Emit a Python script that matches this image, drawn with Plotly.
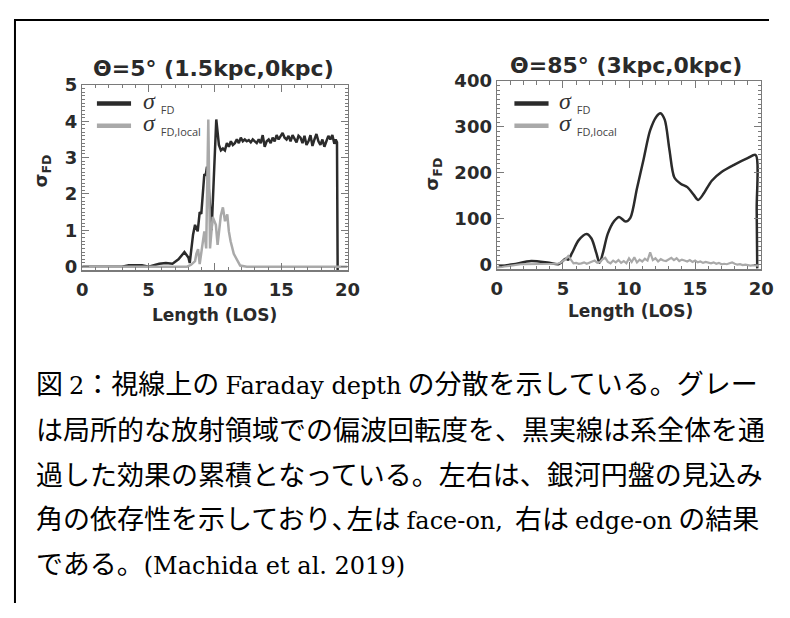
import plotly.graph_objects as go

# page is 790x618; the browser body keeps its default 8px margin, so the figure is 774x602
PAGE_W, PAGE_H = 790, 618
OFF = 8
W, H = PAGE_W - 2 * OFF, PAGE_H - 2 * OFF

# ---------------- data ----------------
# Left panel: Theta = 5 deg
left_fd_x = [0, 3.0, 3.5, 4.0, 4.5, 5.0, 5.5, 5.8, 6.3, 6.8, 7.25, 7.7, 8.0, 8.1, 8.35, 8.5, 8.7,
             8.85, 8.97, 9.1, 9.2, 9.3, 9.4, 9.45, 9.75, 10.1, 10.3, 10.45, 10.6, 10.75, 10.9, 11.05,
             11.2, 11.35, 11.5, 11.65, 11.8, 11.95, 12.1, 12.25, 12.4, 12.55, 12.7, 12.85, 13.0,
             13.15, 13.3, 13.45, 13.6, 13.75, 13.9, 14.05, 14.2, 14.35, 14.5, 14.65, 14.8, 14.95,
             15.1, 15.25, 15.4, 15.55, 15.7, 15.85, 16.0, 16.15, 16.3, 16.45, 16.6, 16.75, 16.9,
             17.05, 17.2, 17.35, 17.5, 17.65, 17.8, 17.95, 18.1, 18.25, 18.4, 18.55, 18.7, 18.85,
             19.0, 19.1, 19.2, 19.25]
left_fd_y = [0, 0, 0.04, 0.05, 0.04, 0, 0.05, 0.08, 0.1, 0.08, 0.2, 0.4, 0.25, 0.1, 0.88, 1.15, 0.97,
             1.5, 1.45, 2.15, 2.55, 2.5, 2.75, 2.6, 1.0, 4.05, 3.35, 3.2, 3.25, 3.2, 3.4, 3.3,
             3.45, 3.35, 3.4, 3.5, 3.4, 3.55, 3.45, 3.5, 3.45, 3.48, 3.42, 3.5, 3.45,
             3.4, 3.5, 3.4, 3.62, 3.3, 3.45, 3.5, 3.4, 3.55, 3.45, 3.62, 3.5, 3.6,
             3.68, 3.55, 3.5, 3.6, 3.45, 3.62, 3.5, 3.42, 3.6, 3.55, 3.4, 3.6, 3.35,
             3.45, 3.62, 3.32, 3.5, 3.65, 3.45, 3.35, 3.5, 3.3, 3.45, 3.6, 3.5, 3.62,
             3.38, 3.5, 3.42, -0.1]
left_local_x = [0, 7.9, 8.2, 8.5, 8.6, 8.73, 8.85, 9.1, 9.2, 9.34, 9.5, 9.63, 9.83, 10.07, 10.2,
                10.44, 10.6, 10.76, 10.93, 11.05, 11.18, 11.42, 11.67, 11.9, 12.4, 20]
left_local_y = [0, 0, 0.05, 0.15, 0.35, 0.48, 0.07, 0.7, 0.97, 0.5, 4.05, 0.5, 1.37, 1.15, 0.6,
                1.4, 1.63, 1.25, 1.44, 0.97, 0.7, 0.35, 0.16, 0.03, 0, 0]

# Right panel: Theta = 85 deg
right_fd_x = [0.15, 1.25, 2.6, 3.96, 4.7, 5.19, 5.4, 5.68, 6.18, 6.79, 7.16, 7.53, 7.77, 8.02, 8.39,
              8.88, 9.25, 9.74, 10.1, 10.6, 11.1, 11.59, 12.08, 12.37, 12.7, 13.06, 13.43, 13.93,
              14.41, 14.9, 15.23, 15.65, 16.26, 17.0, 17.98, 18.97, 19.58, 19.66, 19.7]
right_fd_y = [-4, 1, 8, 4, 1.5, 13, 11, 25, 53, 67, 57, 25, 4, 25, 67,
              95, 104, 94, 102, 166, 229, 292, 323, 330, 316, 250, 190, 176,
              169, 152, 141, 155, 183, 202, 218, 232, 239, 120, -8]
right_local_x = [0.0, 0.2, 0.4, 0.6, 0.8, 1.0, 1.2, 1.4, 1.6, 1.8, 2.0, 2.2, 2.4, 2.6, 2.8, 3.0,
                 3.2, 3.4, 3.6, 3.8, 4.0, 4.2, 4.4, 4.6, 4.8, 5.0, 5.2, 5.4, 5.6, 5.8, 6.0, 6.2,
                 6.4, 6.6, 6.8, 7.0, 7.2, 7.4, 7.6, 7.8, 8.0, 8.2, 8.4, 8.6, 8.8, 9.0, 9.2, 9.4,
                 9.6, 9.8, 10.0, 10.2, 10.4, 10.6, 10.8, 11.0, 11.2, 11.4, 11.6, 11.8, 12.0,
                 12.2, 12.4, 12.6, 12.8, 13.0, 13.2, 13.4, 13.6, 13.8, 14.0, 14.2, 14.4, 14.6,
                 14.8, 15.0, 15.2, 15.4, 15.6, 15.8, 16.0, 16.2, 16.4, 16.6, 16.8, 17.0, 17.2,
                 17.4, 17.6, 17.8, 18.0, 18.2, 18.4, 18.6, 18.8, 19.0, 19.2, 19.4, 19.6, 19.8]
right_local_y = [-6, -6, -5, -4, -3, -2, -1, 0, 0, 1, 1, 1, 1, 1, 1, 1,
                 1, 1, 1, 1, 1, 1, 1, 2, 4, 8, 12, 19, 10, 3, 4, 2,
                 3, 5, 2, 4, 7, 9, 4, 6, 12, 15, 6, 3, 9, 5, 10, 4,
                 8, 3, 14, 6, 16, 5, 11, 7, 13, 9, 27, 10, 14,
                 7, 12, 9, 8, 12, 15, 10, 14, 8, 11, 9, 7, 10,
                 6, 9, 5, 7, 4, 6, 5, 3, 5, 2, 4, 1, 2,
                 1, 3, 5, 2, 0, 1, -1, 0, -1, -2, -1, -2, -2]

x_ticks = [0, 5, 10, 15, 20]
left_y_ticks = [0, 1, 2, 3, 4, 5]
right_y_ticks = [0, 100, 200, 300, 400]

titles = ["Θ=5° (1.5kpc,0kpc)", "Θ=85° (3kpc,0kpc)"]
x_title = "Length (LOS)"
legend_subs = ["FD", "FD,local"]
SER = "<span style=\"font-family:'DejaVu Serif';font-size:24px\">"
caption_lines = [
    "図 " + SER + "2</span>：視線上の " + SER + "Faraday depth</span> の分散を示している。グレー",
    "は局所的な放射領域での偏波回転度を、黒実線は系全体を通",
    "過した効果の累積となっている。左右は、銀河円盤の見込み",
    "角の依存性を示しており" + "<span style=\"letter-spacing:-12px\">、</span>" + "左は " + SER + "face-on,</span>  右は " + SER + "edge-on</span> の結果",
    "である。" + SER + "(Machida et al. 2019)</span>",
]

# ---------------- figure ----------------
def px(x):  # page pixel -> paper fraction
    return (x - OFF) / W

def py(y):
    return 1 - (y - OFF) / H

BLACK = "#2b2b2b"
GREY = "#a9a9a9"
AXC = "#7a7a7a"
BOLD = "DejaVu Sans"

fig = go.Figure()
fig.add_trace(go.Scatter(x=left_fd_x, y=left_fd_y, mode="lines", line=dict(color=BLACK, width=2.5),
                         xaxis="x", yaxis="y", showlegend=False))
fig.add_trace(go.Scatter(x=left_local_x, y=left_local_y, mode="lines", line=dict(color=GREY, width=2.5),
                         xaxis="x", yaxis="y", showlegend=False))
fig.add_trace(go.Scatter(x=right_fd_x, y=right_fd_y, mode="lines",
                         line=dict(color=BLACK, width=2.5, shape="spline", smoothing=0.8),
                         xaxis="x2", yaxis="y2", showlegend=False))
fig.add_trace(go.Scatter(x=right_local_x, y=right_local_y, mode="lines", line=dict(color=GREY, width=2.2),
                         xaxis="x2", yaxis="y2", showlegend=False))

common = dict(showgrid=False, zeroline=False, showline=True, linecolor=AXC, linewidth=1.3,
              mirror="ticks", ticks="inside", tickcolor=AXC, tickwidth=1,
              tickfont=dict(family=BOLD, size=18, color="#2a2a2a", weight="bold"))

fig.update_layout(
    width=W, height=H, autosize=False,
    margin=dict(l=0, r=0, t=0, b=0),
    paper_bgcolor="white", plot_bgcolor="white",
    xaxis=dict(domain=[px(78), px(350)], range=[0, 20], tickvals=x_ticks, ticklen=7, ticklabelstandoff=3,
               minor=dict(dtick=1, ticklen=3.5, ticks="inside", tickcolor=AXC), anchor="y", **common),
    yaxis=dict(domain=[py(267), py(76)], range=[-0.1, 5], tickvals=left_y_ticks, ticklen=7,
               minor=dict(dtick=0.1, ticklen=3, ticks="inside", tickcolor=AXC), anchor="x", **common),
    xaxis2=dict(domain=[px(503), px(774)], range=[0, 20], tickvals=x_ticks, ticklen=7, ticklabelstandoff=3,
                minor=dict(dtick=1, ticklen=3.5, ticks="inside", tickcolor=AXC), anchor="y2", **common),
    yaxis2=dict(domain=[py(266), py(72)], range=[-10, 400], tickvals=right_y_ticks, ticklen=7,
                minor=dict(dtick=10, ticklen=3, ticks="inside", tickcolor=AXC), anchor="x2", **common),
)

ann = []
shapes = []
# page frame (as close to the reference's x=7 / y=8 as the figure's area allows)
shapes.append(dict(type="line", xref="paper", yref="paper", x0=px(9), x1=px(9), y0=0, y1=py(9),
                   line=dict(color="black", width=2)))
shapes.append(dict(type="line", xref="paper", yref="paper", x0=px(8), x1=1, y0=py(9), y1=py(9),
                   line=dict(color="black", width=2)))

panels = [
    dict(title_xy=(213, 59), xt_xy=(214, 313), yt_xy=(37, 165), leg_x=93, leg_y=95, sig_x=139),
    dict(title_xy=(635, 56), xt_xy=(640, 309), yt_xy=(438, 168), leg_x=521, leg_y=95, sig_x=566),
]
for i, p in enumerate(panels):
    ann.append(dict(text=titles[i], x=px(p["title_xy"][0]), y=py(p["title_xy"][1]), xref="paper", yref="paper",
                    showarrow=False, xanchor="center", yanchor="middle",
                    font=dict(family=BOLD, size=22, color="#2a2a2a", weight="bold")))
    ann.append(dict(text=x_title, x=px(p["xt_xy"][0]), y=py(p["xt_xy"][1]), xref="paper", yref="paper",
                    showarrow=False, xanchor="center", yanchor="middle",
                    font=dict(family=BOLD, size=17, color="#2a2a2a", weight="bold")))
    ann.append(dict(text="σ<sub>FD</sub>", x=px(p["yt_xy"][0]), y=py(p["yt_xy"][1]), xref="paper", yref="paper",
                    showarrow=False, xanchor="center", yanchor="middle", textangle=-90,
                    font=dict(family=BOLD, size=18, color="#2a2a2a", weight="bold")))
    # legend
    for j, (col, sub) in enumerate(zip([BLACK, GREY], legend_subs)):
        yy = p["leg_y"] + j * 23
        shapes.append(dict(type="line", xref="paper", yref="paper", x0=px(p["leg_x"]), x1=px(p["leg_x"] + 35),
                           y0=py(yy), y1=py(yy), line=dict(color=col, width=4.5)))
        txt = ("<i>σ</i> <sub><span style=\"font-family:'Open Sans';font-size:11px;fill:#444444\">"
               + sub + "</span></sub>")
        ann.append(dict(text=txt, x=px(p["sig_x"]), y=py(yy - 1), xref="paper", yref="paper",
                        showarrow=False, xanchor="left", yanchor="middle", borderpad=0,
                        font=dict(family="Liberation Serif", size=24, color="#333333")))

cap_y = [383, 430, 476, 522, 568]
for line, yy in zip(caption_lines, cap_y):
    ann.append(dict(text=line, x=px(28), y=py(yy), xref="paper", yref="paper", showarrow=False,
                    xanchor="left", yanchor="middle", align="left",
                    font=dict(family="Noto Sans CJK JP", size=27, color="black")))

fig.update_layout(annotations=ann, shapes=shapes)
fig.write_html("out.html", config={"displayModeBar": False, "staticPlot": True})
